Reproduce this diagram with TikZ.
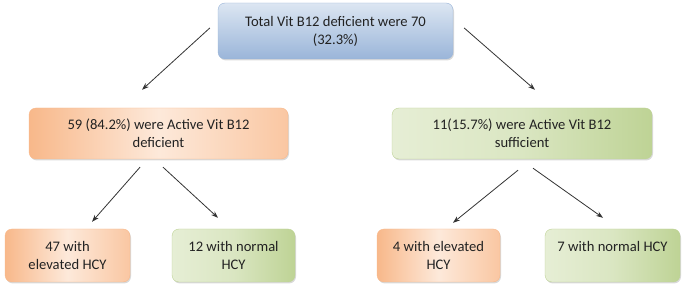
\documentclass[tikz,border=0pt]{standalone}
\usepackage{fontspec}
\setmainfont{Carlito}
\usetikzlibrary{positioning, arrows.meta, shadows}

\definecolor{blueTop}{HTML}{DCE6F2}
\definecolor{blueBot}{HTML}{9AB5D9}
\definecolor{orangeDark}{HTML}{F8B88A}
\definecolor{orangeLight}{HTML}{FDE9DA}
\definecolor{greenDark}{HTML}{BED395}
\definecolor{greenLight}{HTML}{E6EED5}
\definecolor{textgray}{HTML}{222222}
\definecolor{arrowgray}{HTML}{333333}

\begin{document}
\begin{tikzpicture}[
        x=1pt, y=-1pt,
        >={Stealth[length=7pt, width=5pt]},
        on grid,
        every node/.style={text=textgray, align=center, font=\fontsize{14.6}{18}\selectfont},
        box/.style={rounded corners=7pt, inner sep=0pt, line width=0.4pt,
            drop shadow={shadow xshift=1pt, shadow yshift=-1.5pt, opacity=0.3}},
        bluebox/.style={box, draw=blueBot, top color=blueTop, bottom color=blueBot},
        orangebox/.style={box, draw=orangeDark, left color=orangeDark,
            right color=orangeDark!70!orangeLight, middle color=orangeLight},
        greenbox/.style={box, draw=greenDark, left color=greenLight,
            right color=greenDark, middle color=greenLight!70!greenDark}
    ]
        \useasboundingbox (0,0) rectangle (685,288);

        \node[bluebox, minimum width=235pt, minimum height=56pt] (total) at (335.5,31)
            {Total Vit B12 deficient were 70\\(32.3\%)};

        \node[orangebox, minimum width=259pt, minimum height=51pt,
            below left=102.5pt and 177pt of total] (def)
            {59 (84.2\%) were Active Vit B12\\deficient};
        \node[greenbox, minimum width=260pt, minimum height=51pt,
            below right=102.5pt and 186.5pt of total] (suf)
            {11(15.7\%) were Active Vit B12\\sufficient};

        \node[orangebox, minimum width=125pt, minimum height=53pt,
            below left=122pt and 91pt of def] (defhigh) {47 with\\elevated HCY};
        \node[greenbox, minimum width=123pt, minimum height=53pt,
            below right=122pt and 75pt of def] (defnorm) {12 with normal\\HCY};
        \node[orangebox, minimum width=123pt, minimum height=53pt,
            below left=122pt and 83.5pt of suf] (sufhigh) {4 with elevated\\HCY};
        \node[greenbox, minimum width=135pt, minimum height=53pt,
            below right=122pt and 90.5pt of suf] (sufnorm) {7 with normal HCY\\\mbox{}};

        \path[->, color=arrowgray, line width=0.8pt]
        ([xshift=-8pt, yshift=3pt]total.west) edge ([xshift=-16.5pt, yshift=18pt]def.north)
        ([xshift=11pt, yshift=3pt]total.east) edge ([xshift=13pt, yshift=18pt]suf.north)
        ([xshift=-18.5pt, yshift=-8pt]def.south) edge ([xshift=24.5pt, yshift=7pt]defhigh.north)
        ([xshift=4.5pt, yshift=-8pt]def.south) edge ([xshift=-15.5pt, yshift=11pt]defnorm.north)
        ([xshift=-4pt, yshift=-11pt]suf.south) edge ([xshift=14.5pt, yshift=6pt]sufhigh.north)
        ([xshift=11pt, yshift=-9pt]suf.south) edge ([xshift=-9.5pt, yshift=11pt]sufnorm.north);
\end{tikzpicture}
\end{document}
